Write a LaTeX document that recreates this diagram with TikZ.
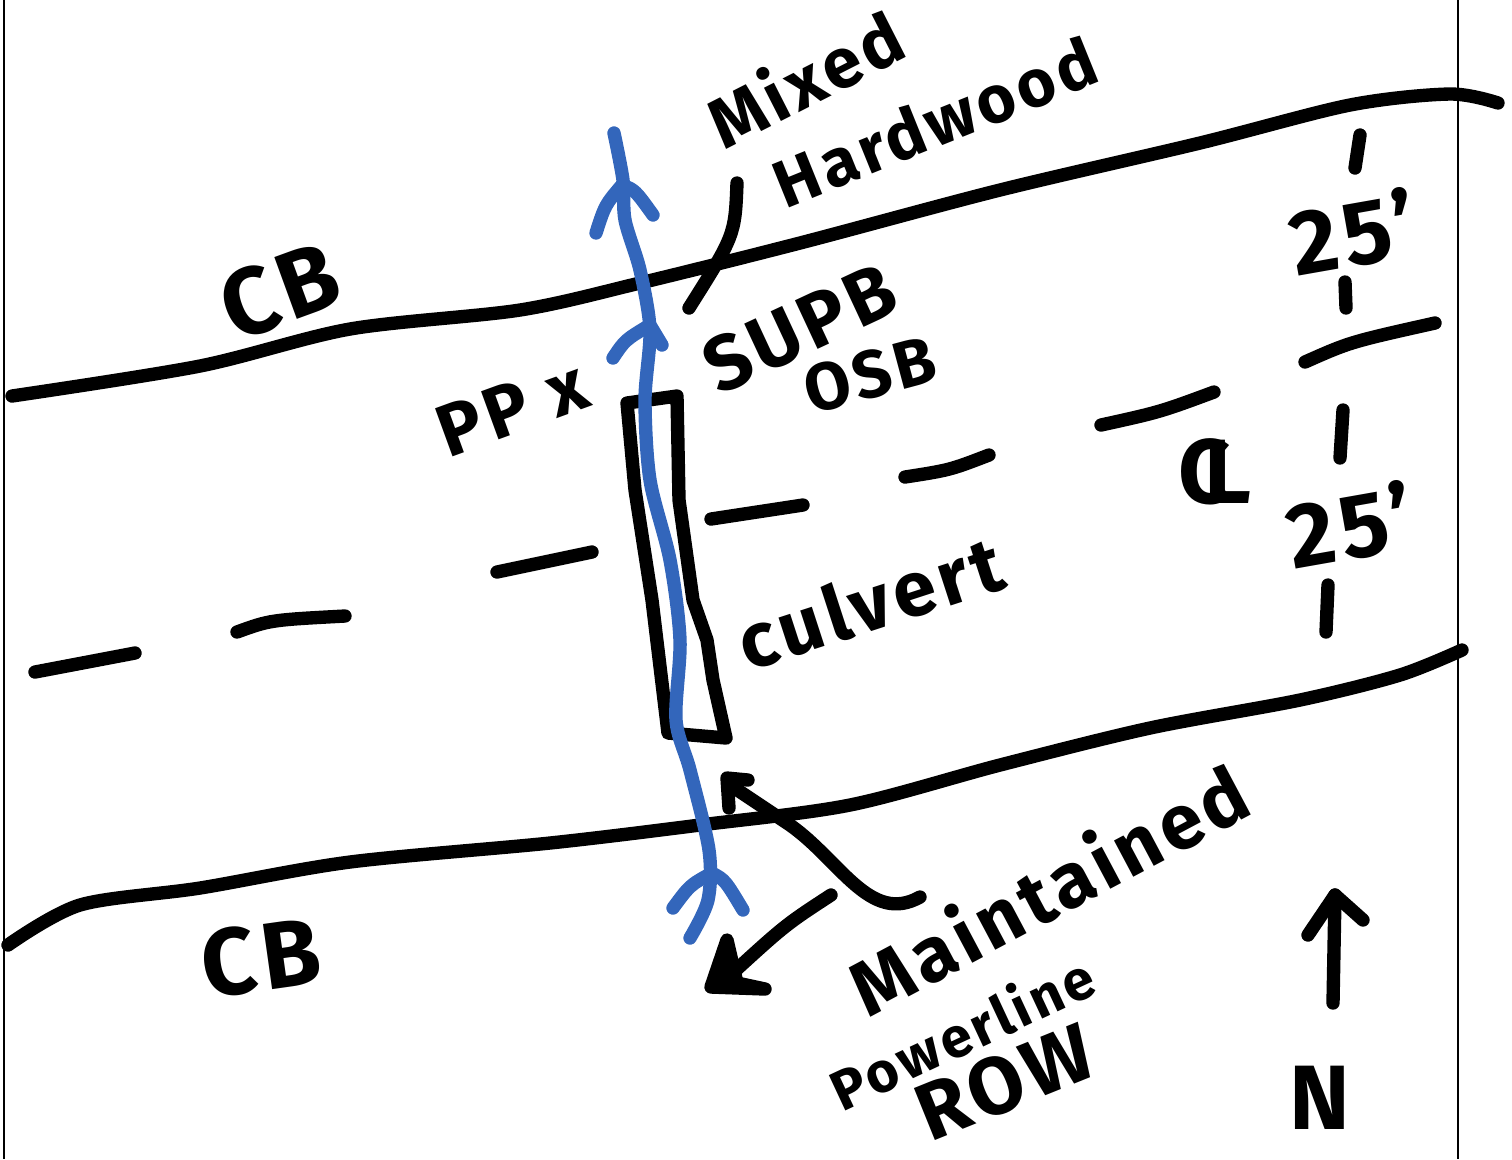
\documentclass[tikz,border=0pt]{standalone}
\usepackage{fontspec}
\setmainfont{Fira Sans}
\usepackage{xcolor}
\usepackage{amsmath}
\usetikzlibrary{calc}
\definecolor{penblue}{HTML}{3366BB}
\tikzset{
  pen/.style={line width=3.8pt,line cap=round,line join=round},
  bluepen/.style={pen,color=penblue},
  thinline/.style={line width=0.5pt},
  hand/.style={inner sep=0pt,font=\fontsize{#1}{#1}\selectfont\bfseries\addfontfeature{LetterSpace=6}},
  hand/.default=24
}

\begin{document}
\begin{tikzpicture}[x=0.01cm,y=-0.01cm]
  \useasboundingbox (0,0) rectangle (1512,1159);
  \fill[white] (0,0) rectangle (1512,1159);
  \draw[thinline] (4,0) -- (4,1159);
  \draw[thinline] (1458,0) -- (1458,1159);

  % road edges
  \draw[pen] plot[smooth,tension=0.5] coordinates {(12,396) (200,366) (350,329) (520,310) (640,283) (800,243) (1000,190) (1200,143) (1350,105) (1450,94) (1498,103)};
  \draw[pen] plot[smooth,tension=0.5] coordinates {(8,945) (80,905) (200,888) (350,862) (550,843) (700,825) (850,805) (1000,765) (1150,728) (1300,700) (1400,675) (1462,650)};

  % centre line
  \draw[pen] (35,672) -- (135,653);
  \draw[pen] (237,632) .. controls (270,620) .. (345,616);
  \draw[pen] (497,572) -- (592,552);
  \draw[pen] (711,519) -- (803,505);
  \draw[pen] (905,477) .. controls (950,470) .. (989,455);
  \draw[pen] (1101,425) .. controls (1160,412) .. (1214,392);
  \draw[pen] (1305,362) .. controls (1350,342) .. (1435,323);

  % culvert
  \draw[pen] (627,403) -- (677,396) -- (679,500) -- (693,600) -- (707,640) -- (713,680) -- (726,738) -- (668,733) -- (652,600) -- (635,490) -- cycle;

  % stream
  \draw[bluepen] plot[smooth,tension=0.5] coordinates {(690,938) (708,900) (709,850) (690,770) (676,720) (680,640) (670,560) (650,480) (645,400) (650,330) (640,270) (625,220) (623,180) (614,133)};
  \draw[bluepen] (596,233) .. controls (605,205) .. (622,185) .. controls (635,190) .. (653,215);
  \draw[bluepen] (613,358) .. controls (625,340) .. (650,325) -- (662,345);
  \draw[bluepen] (673,908) .. controls (690,885) .. (712,873) .. controls (725,880) .. (743,910);

  % leaders
  \draw[pen] (737,183) .. controls (735,235) .. (689,308);
  \draw[pen] (920,897) .. controls (870,925) and (840,860) .. (790,825) -- (730,785);
  \draw[pen] (729,808) -- (727,778) -- (748,780);
  \draw[pen] (831,895) .. controls (785,925) .. (725,980);
  \draw[pen,fill] (727,940) -- (711,987) -- (765,989) -- (737,983) -- cycle;

  % dimension ticks
  \draw[pen] (1360,135) -- (1355,168);
  \draw[pen] (1345,282) -- (1346,308);
  \draw[pen] (1343,410) -- (1340,458);
  \draw[pen] (1328,585) -- (1326,632);

  % north arrow
  \draw[pen] (1333,1003) -- (1335,895);
  \draw[pen] (1308,935) -- (1335,895) -- (1363,920);

  \node[hand=20,rotate=27] (mixed) at (805,78) {Mixed};
  \node[hand=19,rotate=22] (hardwood) at (935,122) {Hardwood};
  \node[hand=27,rotate=20] (cbtop) at (280,291) {CB};
  \node[hand=27,rotate=8] (cbbottom) at (261,958) {CB};
  \node[hand=22,rotate=25] (supb) at (800,328) {SUPB};
  \node[hand=19,rotate=15] (osb) at (870,375) {OSB};
  \node[hand=21,rotate=20] (ppx) at (512,408) {PP x};
  \node[hand=22,rotate=18] (culvert) at (870,602) {culvert};
  \node[hand=26] (cl) at (1215,472) {C\kern-0.3em L};
  \node[hand=26,rotate=10] (widthtop) at (1353,232) {25'};
  \node[hand=26,rotate=10] (widthbottom) at (1350,525) {25'};
  \node[hand=22,rotate=28] (maintained) at (1048,888) {Maintained};
  \node[hand=16,rotate=25] (powerline) at (962,1032) {Powerline};
  \node[hand=23,rotate=22] (row) at (1005,1082) {ROW};
  \node[hand=26] (north) at (1320,1098) {N};
\end{tikzpicture}
\end{document}
